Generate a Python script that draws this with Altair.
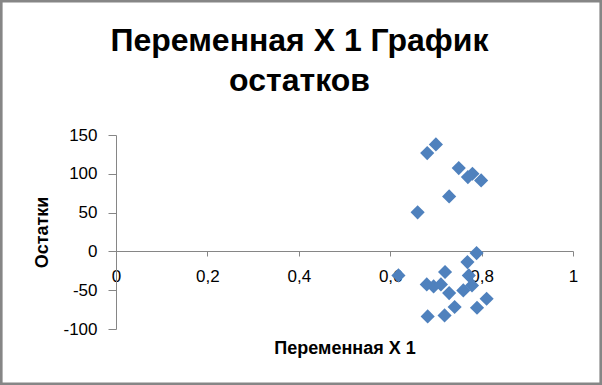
import altair as alt
import pandas as pd

x_vals = [0.700, 0.681, 0.750, 0.780, 0.770, 0.799, 0.729, 0.660,
          0.789, 0.769, 0.618, 0.720, 0.772, 0.680, 0.695, 0.711,
          0.729, 0.760, 0.779, 0.811, 0.790, 0.741, 0.719, 0.682]
y_vals = [137.9, 126.7, 107.4, 100.0, 95.8, 91.5, 70.9, 50.3,
          -2.2, -13.8, -30.9, -26.6, -30.9, -42.5, -45.1, -42.5,
          -53.7, -50.3, -43.8, -61.0, -72.6, -71.7, -82.5, -83.8]
x_ticks = [0, 0.2, 0.4, 0.6, 0.8, 1]
y_ticks = [-100, -50, 0, 50, 100, 150]

title_lines = ["Переменная X 1 График", "остатков"]
x_title = "Переменная X 1"
y_title = "Остатки"

df = pd.DataFrame({"x": x_vals, "y": y_vals})

FONT = "Liberation Sans"
AX = "#868686"
W, H = 457, 194
PL, PT, PR, PB = 116, 135, 29, 56

points = alt.Chart(df).mark_point(
    shape="diamond", filled=True, size=200, color="#4F81BD", opacity=1
).encode(
    x=alt.X("x:Q", scale=alt.Scale(domain=[0, 1], nice=False),
            axis=alt.Axis(values=x_ticks, title=x_title, offset=-78,
                          labelExpr="replace(toString(datum.value), '.', ',')",
                          labelFlush=False,
                          grid=False, domainColor=AX, tickColor=AX, tickSize=5,
                          labelPadding=12, labelFont=FONT, labelFontSize=17,
                          labelColor="#000", titleFont=FONT, titleFontSize=18,
                          titleFontWeight="bold", titleColor="#000",
                          titleY=102, titleBaseline="alphabetic")),
    y=alt.Y("y:Q", scale=alt.Scale(domain=[-100, 150], nice=False),
            axis=alt.Axis(values=y_ticks, title=y_title,
                          labelExpr="toString(datum.value)",
                          grid=False, domainColor=AX, tickColor=AX, tickSize=8,
                          labelPadding=11, labelFont=FONT, labelFontSize=17,
                          labelColor="#000", titleFont=FONT, titleFontSize=18,
                          titleFontWeight="bold", titleColor="#000",
                          titleX=-69, titleBaseline="alphabetic")),
)

frame = alt.Chart(alt.Data(values=[{}])).mark_rect(
    fill=None, stroke=AX, strokeWidth=2.6
).encode(
    x=alt.value(-PL + 1.3), x2=alt.value(W + PR - 1.3),
    y=alt.value(-PT + 1.3), y2=alt.value(H + PB - 1.3),
)

chart = alt.layer(frame, points).properties(
    width=W, height=H,
    title=alt.TitleParams(text=title_lines, font=FONT, fontSize=32,
                          fontWeight="bold", color="#000", lineHeight=40,
                          anchor="middle", baseline="bottom",
                          dx=-45, dy=130, offset=0),
    autosize=alt.AutoSizeParams(type="none"),
    padding={"left": PL, "top": PT, "right": PR, "bottom": PB},
    background="white",
).configure_view(stroke=None)

chart.save("out.html", embed_options={"renderer": "svg", "actions": False})
